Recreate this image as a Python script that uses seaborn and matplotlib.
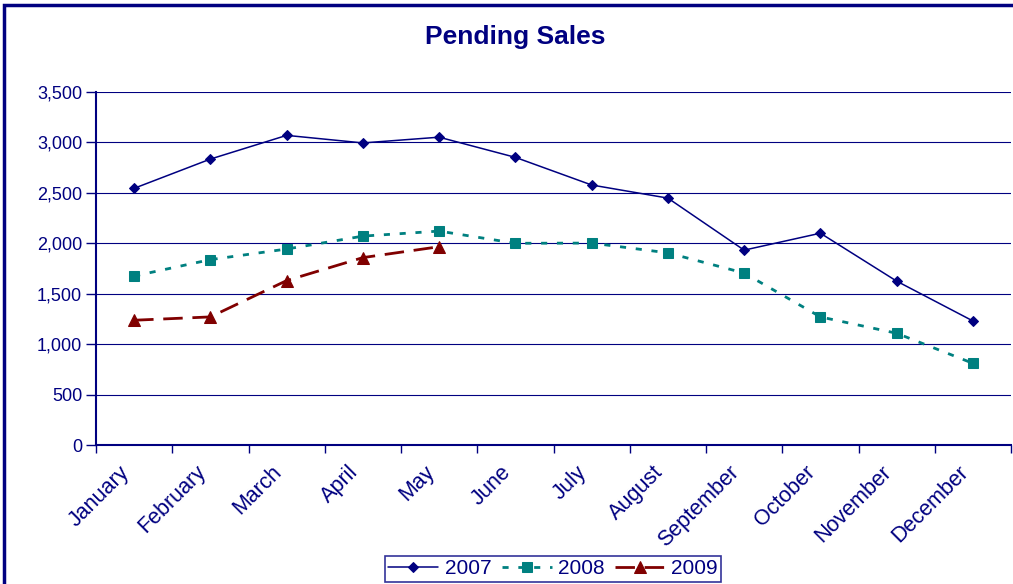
import matplotlib
matplotlib.use("Agg")
import matplotlib.pyplot as plt
import seaborn as sns
import pandas as pd
from matplotlib.patches import Rectangle
from matplotlib.ticker import FuncFormatter, FixedLocator

months = ["January", "February", "March", "April", "May", "June", "July",
          "August", "September", "October", "November", "December"]
sales_2007 = [2545, 2835, 3070, 2995, 3052, 2852, 2578, 2448, 1932, 2100, 1625, 1230]
sales_2008 = [1675, 1838, 1943, 2071, 2121, 2000, 2002, 1905, 1705, 1270, 1108, 810]
sales_2009 = [1237, 1270, 1630, 1858, 1966]
years = ["2007", "2008", "2009"]

sns.set_theme(style="white")
plt.rcParams['font.family'] = ['Liberation Sans', 'DejaVu Sans']

navy = "#000080"
teal = "#008080"
darkred = "#800000"

fig = plt.figure(figsize=(10.13, 5.84), dpi=100)
ax = fig.add_axes([96/1013, (584-445)/584, (1011-96)/1013, (445-92)/584])

styles = {
    "2007": dict(color=navy, marker="D", markersize=5, linewidth=1.1, linestyle="-"),
    "2008": dict(color=teal, marker="s", markersize=6.5, linewidth=2.0, linestyle=(0, (2.2, 3.5))),
    "2009": dict(color=darkred, marker="^", markersize=8, linewidth=2.0, linestyle=(0, (7, 3.5))),
}
series = {"2007": sales_2007, "2008": sales_2008, "2009": sales_2009}

for yr in years:
    vals = series[yr]
    df = pd.DataFrame({"x": list(range(len(vals))), "y": vals})
    st = styles[yr]
    sns.lineplot(data=df, x="x", y="y", ax=ax, color=st["color"], marker=st["marker"],
                 markersize=st["markersize"], linewidth=st["linewidth"],
                 markeredgecolor=st["color"], label=yr)
    ax.lines[-1].set_linestyle(st["linestyle"])

ax.set_xlim(-0.5, 11.5)
ax.set_ylim(0, 3500)
ax.set_yticks(range(0, 3501, 500))
ax.yaxis.set_major_formatter(FuncFormatter(lambda v, p: f"{int(v):,}"))
# label anchors sit slightly left of each category centre, as in the reference
ax.set_xticks([i - 0.2 for i in range(12)])
ax.set_xticklabels(months, rotation=45, ha="right", rotation_mode="anchor")
ax.xaxis.set_minor_locator(FixedLocator([i - 0.5 for i in range(13)]))
ax.tick_params(axis="x", which="major", length=0, labelsize=15.5, labelcolor=navy, pad=12)
ax.tick_params(axis="x", which="minor", length=6, width=1, color=navy, direction="out", bottom=True)
ax.tick_params(axis="y", length=7, width=1, color=navy, direction="out", left=True,
               labelsize=13, labelcolor=navy, pad=3)
ax.set_xlabel("")
ax.set_ylabel("")
ax.grid(axis="y", color=navy, linewidth=0.8)
ax.set_axisbelow(True)
for s in ["top", "right"]:
    ax.spines[s].set_visible(False)
for s in ["left", "bottom"]:
    ax.spines[s].set_color(navy)
    ax.spines[s].set_linewidth(1.5)

fig.text(515/1013, 1 - 37/584, "Pending Sales", ha="center", va="center",
         fontsize=19, fontweight="bold", color=navy)

leg = ax.legend(loc="center", bbox_to_anchor=(553/1013, 1 - 569/584), bbox_transform=fig.transFigure,
                ncol=3, frameon=True, fancybox=False, fontsize=15, handlelength=2.4,
                columnspacing=0.5, handletextpad=0.3, borderpad=0.15, labelcolor=navy)
leg.get_frame().set_edgecolor(navy)
leg.get_frame().set_linewidth(1.2)

fig.patches.append(Rectangle((4/1013, -0.1), 1.5, 1.1 - 5/584, transform=fig.transFigure,
                             fill=False, edgecolor=navy, linewidth=2.5, figure=fig))

fig.savefig("out.png", dpi=100)
